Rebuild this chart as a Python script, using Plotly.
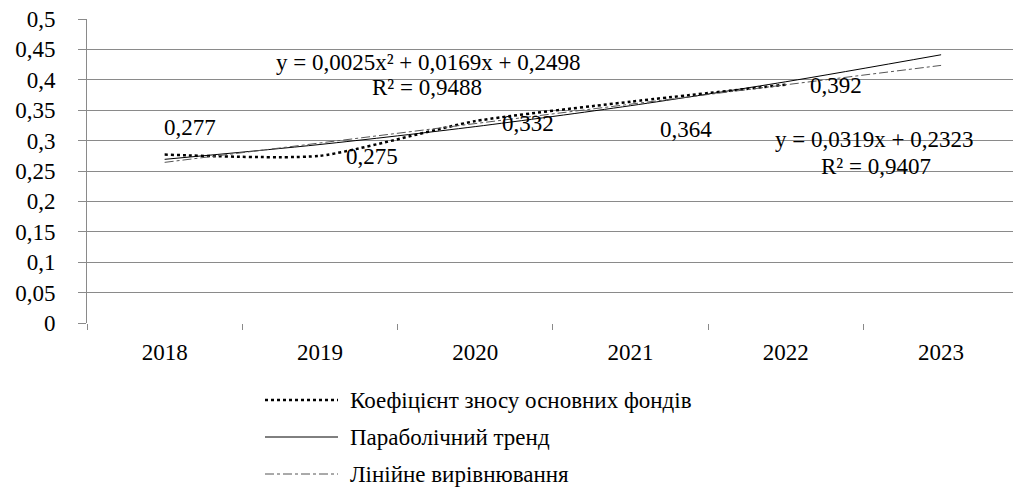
import plotly.graph_objects as go

# ---- data ----
years = ["2018", "2019", "2020", "2021", "2022", "2023"]
wear_coef = [0.277, 0.275, 0.332, 0.364, 0.392]          # Коефіцієнт зносу основних фондів (2018-2022)
parabolic_trend = [0.2692, 0.2936, 0.3230, 0.3574, 0.3968, 0.4412]
linear_trend = [0.2642, 0.2961, 0.3280, 0.3599, 0.3918, 0.4237]
wear_labels = ["0,277", "0,275", "0,332", "0,364", "0,392"]
y_tick_values = [0, 0.05, 0.1, 0.15, 0.2, 0.25, 0.3, 0.35, 0.4, 0.45, 0.5]
y_tick_labels = ["0", "0,05", "0,1", "0,15", "0,2", "0,25", "0,3", "0,35", "0,4", "0,45", "0,5"]
series_names = ["Коефіцієнт зносу основних фондів", "Параболічний тренд", "Лінійне вирівнювання"]
eq_parabolic = "y = 0,0025x² + 0,0169x + 0,2498"
r2_parabolic = "R² = 0,9488"
eq_linear = "y = 0,0319x + 0,2323"
r2_linear = "R² = 0,9407"

FONT = "Liberation Serif"
GRID = "#8a8a8a"
W, H = 1013, 488
ML, MR, MT, MB = 87, 0, 19, 165
PW, PH = W - ML - MR, H - MT - MB

line_styles = [
    dict(color="black", width=2.5, dash="dot"),
    dict(color="black", width=1),
    dict(color="#555555", width=1, dash="dashdot"),
]

fig = go.Figure()
fig.add_trace(go.Scatter(
    x=years[:len(wear_coef)], y=wear_coef, mode="lines", name=series_names[0],
    line=dict(**line_styles[0], shape="spline", smoothing=0.6)))
fig.add_trace(go.Scatter(
    x=years, y=parabolic_trend, mode="lines", name=series_names[1],
    line=dict(**line_styles[1], shape="spline", smoothing=0.8)))
fig.add_trace(go.Scatter(
    x=years, y=linear_trend, mode="lines", name=series_names[2],
    line=line_styles[2]))

# data labels (anchored to each data point, offset in pixels)
label_shifts = [(-3, 27), (24, -1), (25, -2), (27, -28), (22, -1)]
for i, (v, lab, (dx, dy)) in enumerate(zip(wear_coef, wear_labels, label_shifts)):
    fig.add_annotation(x=i, y=v, xref="x", yref="y", text=lab, showarrow=False,
                       xanchor="left", yanchor="middle", xshift=dx, yshift=dy,
                       font=dict(family=FONT, size=23, color="black"))

# trend equations
eq_font = dict(family=FONT, size=23, color="black")
fig.add_annotation(x=1.696, y=0.429, xref="x", yref="y", text=eq_parabolic, showarrow=False, font=eq_font)
fig.add_annotation(x=1.689, y=0.387, xref="x", yref="y", text=r2_parabolic, showarrow=False, font=eq_font)
fig.add_annotation(x=4.568, y=0.301, xref="x", yref="y", text=eq_linear, showarrow=False, font=eq_font)
fig.add_annotation(x=4.581, y=0.257, xref="x", yref="y", text=r2_linear, showarrow=False, font=eq_font)

# legend below the chart (swatch + label per series)
def px_x(px):
    return (px - ML) / PW

def px_y(py):
    return (H - MB - py) / PH

legend_rows = [400, 437, 474]
for name, style, row in zip(series_names, line_styles, legend_rows):
    fig.add_shape(type="line", xref="paper", yref="paper",
                  x0=px_x(265), x1=px_x(338), y0=px_y(row), y1=px_y(row),
                  line=style)
    fig.add_annotation(x=px_x(348), y=px_y(row), xref="paper", yref="paper",
                       text=name, showarrow=False, xanchor="left", yanchor="middle",
                       font=dict(family=FONT, size=23, color="black"))

fig.update_layout(
    width=W, height=H,
    margin=dict(l=ML, r=MR, t=MT, b=MB, autoexpand=False),
    paper_bgcolor="white", plot_bgcolor="white",
    font=dict(family=FONT, size=20, color="black"),
    showlegend=False,
    xaxis=dict(type="category", range=[-0.5, 5.463], showgrid=False,
               showline=False, ticks="outside", tickson="boundaries",
               ticklen=6, tickcolor=GRID, tickwidth=1,
               ticklabelstandoff=13,
               tickfont=dict(family=FONT, size=23, color="black"),
               zeroline=False, fixedrange=True, automargin=False),
    yaxis=dict(range=[0, 0.5], tickvals=y_tick_values, ticktext=y_tick_labels,
               showgrid=True, gridcolor=GRID, gridwidth=1,
               showline=True, linecolor=GRID, linewidth=1,
               ticks="outside", ticklen=8, tickcolor=GRID,
               ticklabelstandoff=18,
               tickfont=dict(family=FONT, size=23, color="black"),
               zeroline=False, fixedrange=True, automargin=False),
)

fig.write_html("out.html", config={"displayModeBar": False},
               post_script="document.body.style.margin='0';document.body.style.overflow='hidden';")
